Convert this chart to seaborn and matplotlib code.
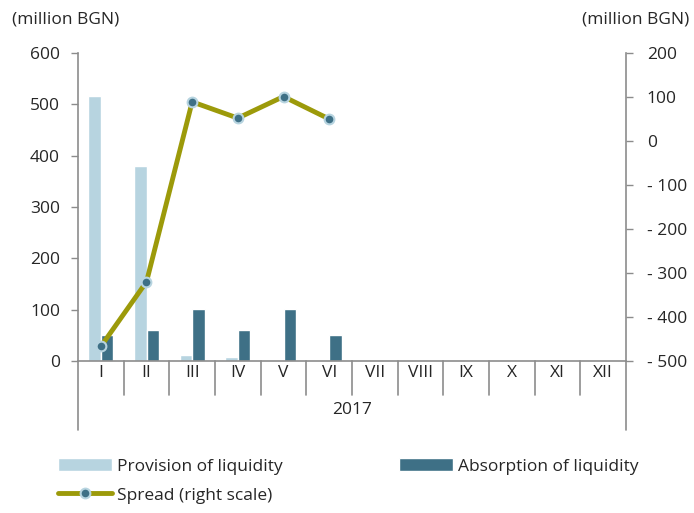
import numpy as np
import pandas as pd
import seaborn as sns
import matplotlib.pyplot as plt
import matplotlib.transforms as mtransforms

# Dados (milhões BGN)
months = ["I", "II", "III", "IV", "V", "VI", "VII", "VIII", "IX", "X", "XI", "XII"]
provision = [517, 380, 12, 8, 0, 0, np.nan, np.nan, np.nan, np.nan, np.nan, np.nan]
absorption = [50, 60, 101, 60, 101, 50, np.nan, np.nan, np.nan, np.nan, np.nan, np.nan]
spread = [-467, -320, 89, 52, 101, 50]
left_ticks = [0, 100, 200, 300, 400, 500, 600]
right_ticks = [-500, -400, -300, -200, -100, 0, 100, 200]

c_prov = "#b7d4e0"
c_abs = "#3e7086"
c_spread = "#9c9a0a"
c_axis = "#8c8c8c"
fs = 12.5

sns.set_style("ticks")
plt.rcParams["font.family"] = ["Open Sans", "DejaVu Sans"]
plt.rcParams["font.size"] = fs

df = pd.DataFrame({
    "month": months * 2,
    "series": ["Provision of liquidity"] * 12 + ["Absorption of liquidity"] * 12,
    "value": provision + absorption,
})

fig = plt.figure(figsize=(6.94, 5.13), dpi=100)
ax = fig.add_axes([78 / 694, 1 - 361 / 513, (626 - 78) / 694, (361 - 53) / 513])

sns.barplot(data=df, x="month", y="value", hue="series", order=months,
            palette=[c_prov, c_abs], width=0.55, gap=0, errorbar=None,
            saturation=1, ax=ax)
ax.get_legend().remove()
ax.set_xlim(-0.5, 11.5)
ax.set_ylim(0, 600)
ax.set_yticks(left_ticks)
ax.set_xlabel("")
ax.set_ylabel("")
ax.tick_params(axis="x", length=0, pad=3, labelsize=fs)
ax.tick_params(axis="y", length=5, width=1, color=c_axis, pad=8, labelsize=fs)
for s in ["top", "right"]:
    ax.spines[s].set_visible(False)
for s in ["left", "bottom"]:
    ax.spines[s].set_color(c_axis)
    ax.spines[s].set_linewidth(1.2)

# separadores das categorias
trans = mtransforms.blended_transform_factory(ax.transData, ax.transAxes)
for k in range(1, 12):
    ax.plot([k - 0.5, k - 0.5], [0, -0.11], color=c_axis, lw=1.2,
            transform=trans, clip_on=False)
for xk in [-0.5, 11.5]:
    ax.plot([xk, xk], [0, -0.225], color=c_axis, lw=1.2,
            transform=trans, clip_on=False)
ax.text(5.5, -0.159, "2017", transform=trans, ha="center", va="center", fontsize=fs)

# eixo direito: spread
ax2 = ax.twinx()
sns.lineplot(x=list(range(len(spread))), y=spread, ax=ax2, color=c_spread,
             lw=3.5, marker="o", markersize=7, markerfacecolor=c_abs,
             markeredgecolor=c_prov, markeredgewidth=1.5,
             label="Spread (right scale)")
ax2.get_legend().remove()
ax2.set_xlim(-0.5, 11.5)
ax2.set_ylim(-500, 200)
ax2.set_yticks(right_ticks)
ax2.set_yticklabels([f"- {abs(v)}" if v < 0 else f"{v}" for v in right_ticks])
ax2.tick_params(axis="y", length=5, width=1, color=c_axis, pad=10, labelsize=fs)
for s in ["top", "left", "bottom"]:
    ax2.spines[s].set_visible(False)
ax2.spines["right"].set_color(c_axis)
ax2.spines["right"].set_linewidth(1.2)

fig.text(12 / 694, 1 - 20 / 513, "(million BGN)", ha="left", va="center", fontsize=fs)
fig.text(689 / 694, 1 - 20 / 513, "(million BGN)", ha="right", va="center", fontsize=fs)

# legenda
h1, l1 = ax.get_legend_handles_labels()
h2, l2 = ax2.get_legend_handles_labels()
handles = [h1[0], h2[0], h1[1]]
labels = [l1[0], l2[0], l1[1]]
fig.legend(handles, labels, ncol=2, loc="upper left",
           bbox_to_anchor=(58 / 694, 1 - 458 / 513), frameon=False,
           borderpad=0, borderaxespad=0, handlelength=3.1, handleheight=0.8,
           handletextpad=0.3, columnspacing=6.7, labelspacing=0.7, fontsize=fs)

fig.savefig("out.png", dpi=100)
